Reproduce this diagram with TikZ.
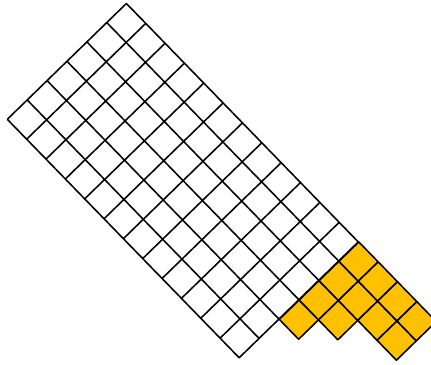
\documentclass[tikz,border=0pt]{standalone}
\definecolor{cellyellow}{HTML}{FFC000}
\begin{document}
\begin{tikzpicture}[x=0.025cm, y=0.025cm,
    cell/.style={draw=black, line width=1.1pt, line join=round}]
    % picture frame (origin at the left corner of the grid)
    \clip (-7.3,-244.7) rectangle (423.7,119.3);

    \begin{scope}[rotate=-45.8, scale=27.75]
        % white 12 x 6 block
        \draw[cell, step=1] (0,0) grid (12,6);

        % yellow cells, one row per \v
        \foreach \v/\len in {2/1, 3/2, 4/4, 5/4} {
            \foreach \u in {1,...,\len} {
                \filldraw[cell, fill=cellyellow] (11+\u,\v) rectangle ++(1,1);
            }
        }
    \end{scope}
\end{tikzpicture}
\end{document}
